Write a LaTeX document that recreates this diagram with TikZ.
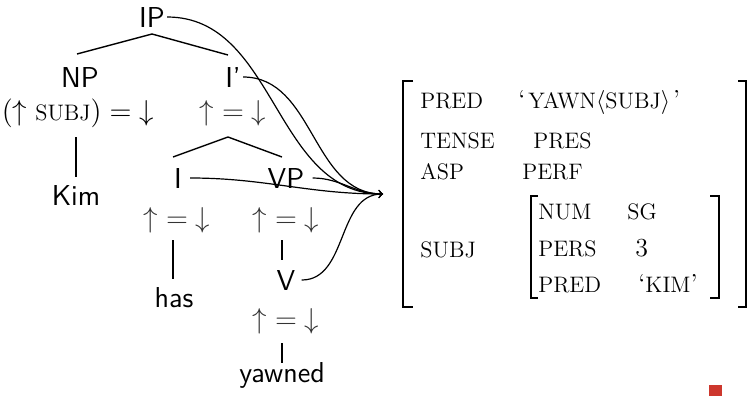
\documentclass[tikz,border=0pt]{standalone}
\usepackage{xcolor}
\definecolor{slidered}{RGB}{205,55,45}
\newcommand{\fsc}[1]{{\fontsize{11.2}{13}\selectfont #1}}
\begin{document}
\begin{tikzpicture}[x=0.5pt,y=-0.5pt,
  tn/.style={font=\sffamily\fontsize{14.4}{17}\selectfont, inner sep=1pt, anchor=base},
  ann/.style={font=\fontsize{14.4}{17}\selectfont, inner sep=1pt, anchor=base},
  gann/.style={ann, text=black!80},
  fl/.style={font=\fontsize{13}{15}\selectfont, inner sep=0pt, anchor=base west},
  brk/.style={line width=1pt},
  tline/.style={line width=0.7pt},
  farrow/.style={->, line width=0.6pt}]
\useasboundingbox (0,0) rectangle (750,396);

% tree nodes
\node[tn] (IP) at (152,27) {IP};
\node[tn] (NP) at (80,87) {NP};
\node[ann] (NPa) at (78,120) {$(\uparrow\mbox{\fsc{SUBJ}}) = {\downarrow}$};
\node[tn] (Ib) at (233,87) {I'};
\node[gann] (Iba) at (233,120) {${\uparrow}={\downarrow}$};
\node[tn] (Kim) at (76,205) {Kim};
\node[tn] (I) at (178,188) {I};
\node[tn] (VP) at (286,188) {VP};
\node[gann] (Ia) at (177,227) {${\uparrow}={\downarrow}$};
\node[gann] (VPa) at (286,227) {${\uparrow}={\downarrow}$};
\node[tn] (has) at (174,307) {has};
\node[tn] (V) at (286,290) {V};
\node[gann] (Va) at (286,328) {${\uparrow}={\downarrow}$};
\node[tn] (yawned) at (282,382) {yawned};

% tree line end points
\coordinate (ipb) at (152,34);
\coordinate (npt) at (77,54);
\coordinate (ibt) at (228,55);
\coordinate (npab) at (76,137);
\coordinate (kimt) at (76,177);
\coordinate (ibab) at (228,137);
\coordinate (it) at (173,157);
\coordinate (vpt) at (282,157);
\coordinate (iab) at (173,240);
\coordinate (hast) at (173,279);
\coordinate (vpab) at (282,240);
\coordinate (vt) at (282,260);
\coordinate (vab) at (282,343);
\coordinate (yt) at (282,363);

\draw[tline] (npt) -- (ipb) -- (ibt);
\draw[tline] (npab) -- (kimt);
\draw[tline] (it) -- (ibab) -- (vpt);
\draw[tline] (iab) -- (hast);
\draw[tline] (vpab) -- (vt);
\draw[tline] (vab) -- (yt);

% f-structure
\coordinate (fs) at (383,194);
\draw[brk] (413,81) -- (403,81) -- (403,307) -- (413,307);
\draw[brk] (738,81) -- (746,81) -- (746,307) -- (738,307);
\draw[brk] (538,196) -- (531,196) -- (531,298) -- (538,298);
\draw[brk] (710,196) -- (719,196) -- (719,298) -- (710,298);

\node[fl] (f1) at (420,108) {\fsc{PRED}};
\node[fl] (v1) at (518,108) {`\kern1.5pt\fsc{YAWN}$\langle$\fsc{SUBJ}$\rangle$\kern1.5pt'};
\node[fl] (f2) at (420,148) {\fsc{TENSE}};
\node[fl] (v2) at (533,148) {\fsc{PRES}};
\node[fl] (f3) at (420,179) {\fsc{ASP}};
\node[fl] (v3) at (522,179) {\fsc{PERF}};
\node[fl] (f4) at (420,257) {\fsc{SUBJ}};
\node[fl] (g1) at (538,219) {\fsc{NUM}};
\node[fl] (w1) at (627,219) {\fsc{SG}};
\node[fl] (g2) at (538,256) {\fsc{PERS}};
\node[fl] (w2) at (635,256) {3};
\node[fl] (g3) at (538,292) {\fsc{PRED}};
\node[fl] (w3) at (638,292) {`\fsc{KIM}'};

% projection arrows
\draw[farrow] (IP.east) to[out=0,in=180] (fs);
\draw[farrow] (Ib.east) to[out=0,in=180] (fs);
\draw[farrow] ([xshift=3pt]I.east) to[out=0,in=180] (fs);
\draw[farrow] ([xshift=3pt]VP.east) to[out=0,in=180] (fs);
\draw[farrow] ([xshift=2pt]V.east) to[out=0,in=180] (fs);

% slide marker
\fill[slidered] (709,385) rectangle (722,396);
\end{tikzpicture}
\end{document}
